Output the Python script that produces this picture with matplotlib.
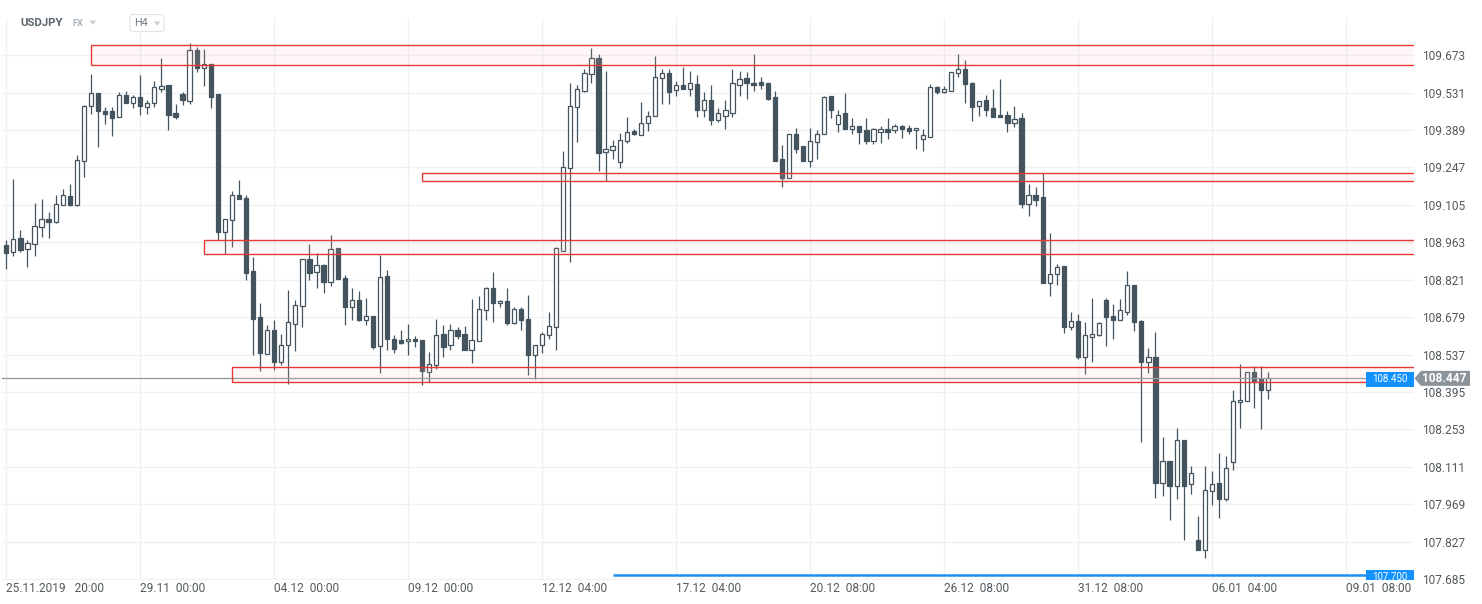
import matplotlib
matplotlib.use("Agg")
import matplotlib.pyplot as plt
from matplotlib.patches import Rectangle, Polygon, FancyBboxPatch
from matplotlib.transforms import IdentityTransform

# USDJPY H4 candles (open, high, low, close)
opens = [108.953, 108.926, 108.978, 108.936, 108.955, 109.020, 109.052, 109.040, 109.105, 109.140,
         109.104, 109.270, 109.479, 109.529, 109.462, 109.462, 109.437, 109.521, 109.491, 109.514,
         109.476, 109.491, 109.544, 109.559, 109.454, 109.526, 109.501, 109.692, 109.624, 109.640,
         109.526, 109.001, 109.046, 109.141, 109.130, 108.854, 108.679, 108.541, 108.632, 108.509,
         108.572, 108.655, 108.722, 108.898, 108.849, 108.876, 108.811, 108.940, 108.829, 108.718,
         108.743, 108.668, 108.683, 108.569, 108.837, 108.597, 108.591, 108.587, 108.598, 108.592,
         108.473, 108.499, 108.614, 108.572, 108.629, 108.614, 108.556, 108.587, 108.708, 108.790,
         108.733, 108.742, 108.658, 108.710, 108.674, 108.534, 108.573, 108.610, 108.640, 108.932,
         109.244, 109.476, 109.538, 109.601, 109.662, 109.305, 109.312, 109.267, 109.348, 109.386,
         109.369, 109.415, 109.441, 109.586, 109.605, 109.540, 109.559, 109.544, 109.564, 109.464,
         109.502, 109.429, 109.444, 109.453, 109.559, 109.587, 109.567, 109.570, 109.567, 109.513,
         109.279, 109.206, 109.373, 109.327, 109.273, 109.343, 109.373, 109.519, 109.411, 109.454,
         109.394, 109.403, 109.389, 109.346, 109.383, 109.392, 109.388, 109.403, 109.398, 109.388,
         109.354, 109.362, 109.551, 109.535, 109.539, 109.605, 109.620, 109.567, 109.479, 109.503,
         109.472, 109.445, 109.445, 109.417, 109.435, 109.110, 109.142, 109.134, 108.809, 108.844,
         108.872, 108.642, 108.666, 108.528, 108.605, 108.613, 108.746, 108.685, 108.670, 108.700,
         108.803, 108.666, 108.510, 108.529, 108.051, 108.134, 108.038, 108.214, 108.048, 107.835,
         107.794, 108.021, 108.051, 107.989, 108.130, 108.358, 108.362, 108.470, 108.443, 108.403]
highs = [108.972, 109.203, 109.010, 108.972, 109.113, 109.129, 109.080, 109.143, 109.166, 109.185,
         109.296, 109.485, 109.602, 109.530, 109.476, 109.477, 109.535, 109.537, 109.521, 109.598,
         109.502, 109.574, 109.663, 109.560, 109.488, 109.535, 109.719, 109.706, 109.697, 109.640,
         109.526, 109.050, 109.156, 109.200, 109.143, 108.907, 108.731, 108.650, 108.670, 108.617,
         108.784, 108.743, 108.898, 108.957, 108.921, 108.881, 108.991, 108.940, 108.838, 108.789,
         108.777, 108.751, 108.683, 108.915, 108.858, 108.611, 108.632, 108.652, 108.607, 108.592,
         108.546, 108.671, 108.648, 108.655, 108.640, 108.647, 108.748, 108.759, 108.794, 108.850,
         108.746, 108.789, 108.718, 108.718, 108.762, 108.574, 108.621, 108.697, 108.944, 109.309,
         109.569, 109.559, 109.621, 109.701, 109.676, 109.614, 109.351, 109.379, 109.439, 109.394,
         109.496, 109.463, 109.670, 109.621, 109.621, 109.576, 109.627, 109.612, 109.598, 109.534,
         109.560, 109.472, 109.503, 109.620, 109.614, 109.608, 109.678, 109.591, 109.567, 109.537,
         109.331, 109.373, 109.396, 109.327, 109.396, 109.389, 109.519, 109.519, 109.464, 109.529,
         109.434, 109.403, 109.434, 109.398, 109.405, 109.434, 109.411, 109.407, 109.407, 109.398,
         109.392, 109.564, 109.558, 109.555, 109.608, 109.678, 109.655, 109.573, 109.501, 109.521,
         109.544, 109.582, 109.460, 109.481, 109.453, 109.185, 109.172, 109.225, 108.999, 108.880,
         108.872, 108.700, 108.692, 108.662, 108.751, 108.662, 108.751, 108.728, 108.747, 108.856,
         108.803, 108.670, 108.563, 108.622, 108.223, 108.134, 108.257, 108.214, 108.113, 107.923,
         108.113, 108.097, 108.165, 108.154, 108.404, 108.500, 108.470, 108.495, 108.493, 108.470]
lows = [108.862, 108.912, 108.928, 108.869, 108.912, 108.985, 108.981, 109.037, 109.103, 109.100,
        109.100, 109.212, 109.451, 109.326, 109.413, 109.368, 109.437, 109.493, 109.474, 109.448,
        109.449, 109.478, 109.535, 109.389, 109.432, 109.483, 109.486, 109.611, 109.558, 109.474,
        108.972, 108.920, 108.947, 109.129, 108.821, 108.535, 108.474, 108.541, 108.480, 108.497,
        108.425, 108.551, 108.643, 108.821, 108.791, 108.769, 108.798, 108.824, 108.651, 108.670,
        108.664, 108.648, 108.560, 108.469, 108.556, 108.544, 108.579, 108.537, 108.567, 108.423,
        108.434, 108.483, 108.528, 108.556, 108.598, 108.553, 108.507, 108.587, 108.668, 108.661,
        108.718, 108.651, 108.652, 108.632, 108.459, 108.446, 108.544, 108.598, 108.556, 108.932,
        108.887, 109.345, 109.535, 109.569, 109.235, 109.196, 109.279, 109.244, 109.339, 109.369,
        109.369, 109.387, 109.441, 109.487, 109.487, 109.520, 109.544, 109.520, 109.437, 109.437,
        109.410, 109.419, 109.394, 109.440, 109.520, 109.506, 109.539, 109.544, 109.503, 109.273,
        109.174, 109.206, 109.301, 109.273, 109.250, 109.278, 109.373, 109.436, 109.383, 109.394,
        109.373, 109.337, 109.337, 109.335, 109.341, 109.355, 109.377, 109.359, 109.374, 109.319,
        109.311, 109.362, 109.524, 109.531, 109.539, 109.589, 109.493, 109.424, 109.444, 109.444,
        109.437, 109.437, 109.383, 109.402, 109.095, 109.063, 109.102, 108.808, 108.760, 108.801,
        108.619, 108.630, 108.519, 108.463, 108.509, 108.606, 108.568, 108.596, 108.670, 108.689,
        108.627, 108.205, 108.468, 107.992, 108.001, 107.909, 107.989, 107.833, 108.008, 107.796,
        107.766, 107.967, 107.916, 107.982, 108.099, 108.258, 108.360, 108.334, 108.255, 108.368]
closes = [108.924, 108.974, 108.935, 108.960, 109.024, 109.052, 109.040, 109.109, 109.143, 109.105,
          109.274, 109.482, 109.529, 109.460, 109.451, 109.436, 109.521, 109.493, 109.514, 109.479,
          109.491, 109.551, 109.558, 109.448, 109.440, 109.503, 109.692, 109.624, 109.640, 109.516,
          109.002, 109.050, 109.141, 109.129, 108.846, 108.673, 108.544, 108.632, 108.509, 108.575,
          108.659, 108.727, 108.898, 108.848, 108.876, 108.814, 108.936, 108.824, 108.718, 108.743,
          108.670, 108.683, 108.567, 108.832, 108.597, 108.560, 108.583, 108.598, 108.587, 108.475,
          108.503, 108.611, 108.567, 108.629, 108.607, 108.556, 108.591, 108.712, 108.790, 108.733,
          108.742, 108.658, 108.712, 108.670, 108.534, 108.574, 108.614, 108.645, 108.940, 109.247,
          109.479, 109.544, 109.605, 109.662, 109.303, 109.316, 109.330, 109.350, 109.383, 109.374,
          109.415, 109.443, 109.589, 109.605, 109.535, 109.559, 109.544, 109.567, 109.467, 109.502,
          109.429, 109.453, 109.464, 109.567, 109.582, 109.567, 109.559, 109.559, 109.508, 109.273,
          109.206, 109.373, 109.319, 109.273, 109.346, 109.373, 109.513, 109.467, 109.448, 109.394,
          109.403, 109.383, 109.349, 109.392, 109.392, 109.383, 109.403, 109.394, 109.387, 109.398,
          109.369, 109.551, 109.535, 109.544, 109.608, 109.620, 109.562, 109.478, 109.501, 109.467,
          109.440, 109.437, 109.417, 109.430, 109.110, 109.142, 109.124, 108.808, 108.844, 108.870,
          108.642, 108.666, 108.528, 108.613, 108.617, 108.658, 108.680, 108.668, 108.708, 108.803,
          108.662, 108.509, 108.529, 108.049, 108.134, 108.038, 108.214, 108.038, 108.089, 107.796,
          108.024, 108.047, 107.989, 108.108, 108.362, 108.366, 108.470, 108.432, 108.403, 108.449]

# Axis labels
x_ticks = [0, 19, 38, 57, 76, 95, 114, 133, 152, 171, 190]
x_labels = ["25.11.2019   20:00", "29.11  00:00", "04.12  00:00", "09.12  00:00",
            "12.12  04:00", "17.12  04:00", "20.12  08:00", "26.12  08:00",
            "31.12  08:00", "06.01  04:00", "09.01  08:00"]
y_ticks = [109.673, 109.531, 109.389, 109.247, 109.105, 108.963, 108.821, 108.679,
           108.537, 108.395, 108.253, 108.111, 107.969, 107.827, 107.685]

# Support / resistance zones (start candle, top, bottom)
zone_start = [12, 59, 28, 32]
zone_top = [109.711, 109.225, 108.971, 108.489]
zone_bottom = [109.635, 109.195, 108.918, 108.432]

# Price levels
last_price = 108.447
ask_price = 108.450
alert_price = 107.700
alert_start = 86

plt.rcParams["font.family"] = ["Roboto", "DejaVu Sans"]

W, H = 1482, 604
fig = plt.figure(figsize=(W / 100, H / 100), dpi=100)
ax = fig.add_axes([2 / W, 24 / H, 1411.5 / W, 561.7 / H])
ax.set_xlim(-0.61, 199.6)
ax.set_ylim(107.682, 109.813)

candle_color = "#44545e"

# Draw the candles: wicks first, bodies on top
for i in range(len(opens)):
    o, hi, lo, c = opens[i], highs[i], lows[i], closes[i]
    ax.vlines(i, lo, hi, color=candle_color, linewidth=0.9, zorder=2)
    face = "white" if c >= o else candle_color
    ax.add_patch(Rectangle((i - 0.3, min(o, c)), 0.6, max(abs(c - o), 0.002),
                           facecolor=face, edgecolor=candle_color, linewidth=0.9, zorder=3))

# Current price and alert lines
ax.axhline(last_price, color="#8d979d", linewidth=0.9, zorder=4)
ax.hlines(alert_price, alert_start, 200, color="#1e90f5", linewidth=1.8, zorder=4)

# Zones drawn over the candles
for s, t, b in zip(zone_start, zone_top, zone_bottom):
    ax.add_patch(Rectangle((s, b), 200 - s, t - b, facecolor="#ffc0c0", alpha=0.12,
                           edgecolor="none", zorder=5))
    ax.add_patch(Rectangle((s, b), 200 - s, t - b, facecolor="none",
                           edgecolor="#e53935", linewidth=1.0, zorder=6))

# Grid and ticks
ax.set_xticks(x_ticks)
ax.set_xticklabels(x_labels)
ax.set_yticks(y_ticks)
ax.set_yticklabels([f"{v:.3f}" for v in y_ticks])
ax.yaxis.tick_right()
ax.grid(True, color="#f0f0f2", linewidth=1.0, zorder=0)
ax.set_axisbelow(True)
ax.tick_params(axis="x", length=0, pad=1.5, labelsize=8.6, labelcolor="#53595d")
ax.tick_params(axis="y", length=0, pad=6, labelsize=8.6, labelcolor="#53595d")
for lbl in ax.get_xticklabels():
    lbl.set_horizontalalignment("left")
for sp in ax.spines.values():
    sp.set_visible(False)

# Price tags (in pixel coordinates)
fig.canvas.draw()
px = IdentityTransform()


def disp_y(price):
    return ax.transData.transform((0, price))[1]


yl = disp_y(last_price)
tag = Polygon([(1414.5, yl), (1421, yl + 7.5), (1470, yl + 7.5), (1470, yl - 7.5), (1421, yl - 7.5)],
              closed=True, facecolor="#8a949a", edgecolor="none", transform=px, zorder=10)
fig.add_artist(tag)
fig.text(1444, yl, f"{last_price:.3f}", transform=px, ha="center", va="center",
         fontsize=8.6, fontweight="bold", color="white", zorder=11)

ya = disp_y(ask_price) - 1.5
ax.add_patch(Rectangle((1366, ya - 7.5), 48, 15, facecolor="#1291ff", edgecolor="none",
                       transform=px, zorder=10))
ax.text(1389.5, ya, f"{ask_price:.3f}", transform=px, ha="center", va="center",
        fontsize=7, color="white", zorder=11, clip_on=True)

# Alert tag sits on the bottom edge, so it is cut by the plot area
yb = disp_y(alert_price) - 2
ax.add_patch(Rectangle((1366, yb - 7.5), 48, 15, facecolor="#1291ff", edgecolor="none",
                       transform=px, zorder=10))
ax.text(1389.5, yb, f"{alert_price:.3f}", transform=px, ha="center", va="center",
        fontsize=7, color="white", zorder=11, clip_on=True)

# Header: symbol, market and interval selector
fig.text(20, H - 23, "USDJPY", transform=px, ha="left", va="center",
         fontsize=8.2, fontweight="bold", color="#5a666e")
fig.text(72, H - 23.5, "FX", transform=px, ha="left", va="center",
         fontsize=6.6, fontweight="bold", color="#a9b3ba")
fig.add_artist(Polygon([(89, H - 20.5), (96.5, H - 20.5), (92.75, H - 24.5)], closed=True,
                       facecolor="#c8cfd4", edgecolor="none", transform=px))
fig.add_artist(FancyBboxPatch((130, H - 31.5), 34, 17, boxstyle="round,pad=0,rounding_size=3",
                              facecolor="white", edgecolor="#e1e4e6", linewidth=0.8, transform=px))
fig.text(134, H - 23, "H4", transform=px, ha="left", va="center",
         fontsize=7.8, color="#6f7b83")
fig.add_artist(Polygon([(153.5, H - 21.5), (160.5, H - 21.5), (157, H - 25.5)], closed=True,
                       facecolor="#c8cfd4", edgecolor="none", transform=px))

fig.savefig("out.png", dpi=100)
